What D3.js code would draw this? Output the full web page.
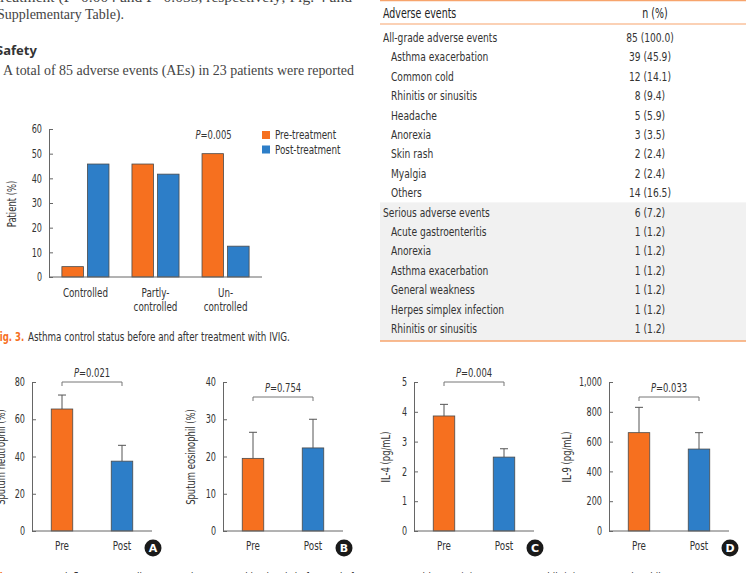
<!DOCTYPE html>
<html>
<head>
<meta charset="utf-8">
<script src="https://cdn.jsdelivr.net/npm/d3@7"></script>
<style>
  body { margin: 0; background: #fff; }
  svg { display: block; }
</style>
</head>
<body>
<script>
// Fig. 3 data: asthma control status (% of patients)
var categories = ["Controlled", "Partly-\ncontrolled", "Un-\ncontrolled"];
var preTreatment = [4.2, 45.8, 50.0];
var postTreatment = [45.8, 41.7, 12.5];
var mainTicks = [0, 10, 20, 30, 40, 50, 60];
var seriesNames = ["Pre-treatment", "Post-treatment"];

// Table: adverse events
var aeLabels = ["All-grade adverse events", "Asthma exacerbation", "Common cold", "Rhinitis or sinusitis",
  "Headache", "Anorexia", "Skin rash", "Myalgia", "Others",
  "Serious adverse events", "Acute gastroenteritis", "Anorexia", "Asthma exacerbation",
  "General weakness", "Herpes simplex infection", "Rhinitis or sinusitis"];
var aeValues = ["85 (100.0)", "39 (45.9)", "12 (14.1)", "8 (9.4)", "5 (5.9)", "3 (3.5)", "2 (2.4)",
  "2 (2.4)", "14 (16.5)", "6 (7.2)", "1 (1.2)", "1 (1.2)", "1 (1.2)", "1 (1.2)", "1 (1.2)", "1 (1.2)"];
var aeLevel = [0, 1, 1, 1, 1, 1, 1, 1, 1, 0, 1, 1, 1, 1, 1, 1];

// Fig. 4 panels: mean and upper error bar, pre vs post
var panelIds = ["A", "B", "C", "D"];
var panelLabels = ["Sputum neutrophil (%)", "Sputum eosinophil (%)", "IL-4 (pg/mL)", "IL-9 (pg/mL)"];
var panelP = ["0.021", "0.754", "0.004", "0.033"];
var preMean = [65.5, 19.5, 3.86, 660];
var preUpper = [73, 26.5, 4.25, 830];
var postMean = [37.5, 22.3, 2.48, 550];
var postUpper = [46, 30, 2.76, 660];
var panelTicks = [[0, 20, 40, 60, 80], [0, 10, 20, 30, 40], [0, 1, 2, 3, 4, 5], [0, 200, 400, 600, 800, 1000]];
var groups = ["Pre", "Post"];

var ORANGE = "#f6701f", BLUE = "#2d7ec8", OUTLINE = "#4a4a4a", AXIS = "#666", TXT = "#333";
var SANS = '"Liberation Sans Narrow", "DejaVu Sans Condensed", sans-serif';
var SERIF = '"Liberation Serif", "DejaVu Serif", serif';

var svg = d3.select("body").append("svg")
  .attr("width", 746)
  .attr("height", 573)
  .style("font-family", SANS);

// ---- body text (top left) ----
svg.append("text").attr("class", "keep").attr("x", -4).attr("y", 1.5)
  .attr("textLength", 356).attr("lengthAdjust", "spacingAndGlyphs")
  .style("font-family", SERIF).style("font-size", "14px").attr("fill", "#444")
  .text("treatment (P=0.004 and P=0.033, respectively; Fig. 4 and");
svg.append("text").attr("class", "keep").attr("x", -3).attr("y", 19)
  .attr("textLength", 127).attr("lengthAdjust", "spacingAndGlyphs")
  .style("font-family", SERIF).style("font-size", "14px").attr("fill", "#444")
  .text("Supplementary Table).");
svg.append("text").attr("class", "keep").attr("x", -4).attr("y", 55)
  .style("font-family", '"Noto Sans", sans-serif').style("font-size", "13px")
  .style("font-weight", "bold").attr("fill", "#333")
  .text("Safety");
svg.append("text").attr("class", "keep").attr("x", 3).attr("y", 75)
  .attr("textLength", 351).attr("lengthAdjust", "spacingAndGlyphs")
  .style("font-family", SERIF).style("font-size", "14px").attr("fill", "#444")
  .text("A total of 85 adverse events (AEs) in 23 patients were reported");

// ---- Fig. 3 grouped bar chart ----
var main = svg.append("g").attr("transform", "translate(49,0)");
var y = d3.scaleLinear().domain([0, 60]).range([277, 129]);
var x0 = d3.scaleBand().domain(categories).range([0, 213]).paddingInner(0).paddingOuter(0.02);
var x1 = d3.scaleBand().domain(["pre", "post"]).range([0, x0.bandwidth()]).paddingInner(0.157).paddingOuter(0.45);

var rows = categories.map(function(c, i) {
  return { cat: c, values: [{ k: "pre", v: preTreatment[i] }, { k: "post", v: postTreatment[i] }] };
});

main.selectAll("g.grp")
  .data(rows)
  .enter().append("g")
  .attr("class", "grp")
  .attr("transform", function(d) { return "translate(" + x0(d.cat) + ",0)"; })
  .selectAll("rect")
  .data(function(d) { return d.values; })
  .enter().append("rect")
  .attr("x", function(d) { return x1(d.k); })
  .attr("width", x1.bandwidth())
  .attr("y", function(d) { return y(d.v); })
  .attr("height", function(d) { return y(0) - y(d.v); })
  .attr("fill", function(d) { return d.k === "pre" ? ORANGE : BLUE; })
  .attr("stroke", OUTLINE)
  .attr("stroke-width", 0.8);

var yAxis = main.append("g")
  .call(d3.axisLeft(y).tickValues(mainTicks).tickSizeInner(-4).tickSizeOuter(0).tickPadding(7));
yAxis.select(".domain").attr("stroke", AXIS);
yAxis.selectAll(".tick line").attr("stroke", AXIS);
yAxis.selectAll("text").attr("fill", TXT).style("font-size", "11.5px").style("font-family", SANS);

main.append("line").attr("x1", 0).attr("x2", 213).attr("y1", y(0)).attr("y2", y(0)).attr("stroke", AXIS);

main.selectAll("text.cat")
  .data(categories)
  .enter().append("text")
  .attr("class", "cat")
  .attr("text-anchor", "middle")
  .attr("fill", TXT)
  .style("font-size", "12.5px")
  .each(function(d) {
    var t = d3.select(this);
    d.split("\n").forEach(function(line, j) {
      t.append("tspan")
        .attr("x", x0(d) + x0.bandwidth() / 2)
        .attr("y", 297 + j * 14)
        .text(line);
    });
  });

svg.append("text")
  .attr("transform", "translate(16,204) rotate(-90)")
  .attr("text-anchor", "middle").attr("fill", TXT).style("font-size", "12px")
  .text("Patient (%)");

var pText = main.append("text")
  .attr("x", x0(categories[2]) + x0.bandwidth() / 2 - 12).attr("y", 139)
  .attr("text-anchor", "middle").attr("fill", TXT).style("font-size", "12px");
pText.append("tspan").style("font-style", "italic").text("P");
pText.append("tspan").text("=0.005");

var legend = svg.append("g").attr("transform", "translate(262,131)");
seriesNames.forEach(function(name, i) {
  legend.append("rect").attr("x", 0).attr("y", i * 14.5).attr("width", 8).attr("height", 8)
    .attr("fill", i === 0 ? ORANGE : BLUE);
  legend.append("text").attr("x", 13).attr("y", i * 14.5 + 8)
    .attr("fill", TXT).style("font-size", "12.5px").text(name);
});

// figure captions: orange bold label squeezed with a transform, then the caption text
function figLabel(txt, yy) {
  svg.append("text").attr("class", "keep")
    .attr("transform", "translate(-6," + yy + ") scale(0.76,1)")
    .style("font-size", "12.5px").style("font-weight", "bold")
    .attr("fill", ORANGE).text(txt);
}
figLabel("Fig. 3.", 341);
svg.append("text").attr("x", 28).attr("y", 341).style("font-size", "12.5px")
  .attr("fill", TXT).text("Asthma control status before and after treatment with IVIG.");

// ---- Table ----
var table = svg.append("g");
var rowY = d3.scaleLinear().domain([0, aeLabels.length - 1]).range([37.5, 328.5]);
table.append("rect").attr("x", 380).attr("y", rowY(8.5)).attr("width", 366).attr("height", 341 - rowY(8.5))
  .attr("fill", "#f1f1f1");
table.append("line").attr("x1", 380).attr("x2", 746).attr("y1", 0.5).attr("y2", 0.5)
  .attr("stroke", "#f7a46c").attr("stroke-width", 1.5);
table.append("line").attr("x1", 380).attr("x2", 746).attr("y1", 24).attr("y2", 24)
  .attr("stroke", "#f7a46c").attr("stroke-width", 1.2);
table.append("line").attr("x1", 380).attr("x2", 746).attr("y1", 341).attr("y2", 341)
  .attr("stroke", "#f7a46c").attr("stroke-width", 1.5);
table.append("text").attr("x", 383).attr("y", 17.5).attr("fill", "#222").style("font-size", "13.5px").text("Adverse events");
table.append("text").attr("x", 655).attr("y", 17.5).attr("text-anchor", "middle").attr("fill", "#222")
  .style("font-size", "13.5px").text("n (%)");

table.selectAll("text.lab")
  .data(aeLabels)
  .enter().append("text")
  .attr("class", "lab")
  .attr("x", function(d, i) { return aeLevel[i] === 0 ? 383 : 391; })
  .attr("y", function(d, i) { return rowY(i); })
  .attr("dy", "0.35em")
  .attr("fill", TXT)
  .style("font-size", "13px")
  .text(function(d) { return d; });

table.selectAll("text.val")
  .data(aeValues)
  .enter().append("text")
  .attr("class", "val")
  .attr("x", 650)
  .attr("y", function(d, i) { return rowY(i); })
  .attr("dy", "0.35em")
  .attr("text-anchor", "middle")
  .attr("fill", TXT)
  .style("font-size", "13px")
  .text(function(d) { return d; });

// ---- Fig. 4 panels ----
var panelX = [32, 223, 414, 609];
var labelX = [5, 195, 390, 571];
var bracketY = [382, 397, 382, 397];

panelIds.forEach(function(id, i) {
  var g = svg.append("g").attr("transform", "translate(" + panelX[i] + ",0)");
  var py = d3.scaleLinear().domain([0, panelTicks[i][panelTicks[i].length - 1]]).range([531, 382]);
  var px = d3.scalePoint().domain(groups).range([0, 120]).padding(0.5);
  var bw = 21.5;
  var means = [preMean[i], postMean[i]];
  var uppers = [preUpper[i], postUpper[i]];

  // error bars first so bar covers the lower part
  groups.forEach(function(gname, j) {
    var cx = px(gname);
    g.append("line").attr("x1", cx).attr("x2", cx).attr("y1", py(means[j])).attr("y2", py(uppers[j]))
      .attr("stroke", "#555").attr("stroke-width", 1);
    g.append("line").attr("x1", cx - 4).attr("x2", cx + 4).attr("y1", py(uppers[j])).attr("y2", py(uppers[j]))
      .attr("stroke", "#555").attr("stroke-width", 1);
  });

  g.selectAll("rect")
    .data(groups)
    .enter().append("rect")
    .attr("x", function(d) { return px(d) - bw / 2; })
    .attr("width", bw)
    .attr("y", function(d, j) { return py(means[j]); })
    .attr("height", function(d, j) { return py(0) - py(means[j]); })
    .attr("fill", function(d, j) { return j === 0 ? ORANGE : BLUE; })
    .attr("stroke", OUTLINE)
    .attr("stroke-width", 0.8);

  var ax = g.append("g")
    .call(d3.axisLeft(py).tickValues(panelTicks[i]).tickFormat(d3.format(",")).tickSizeInner(-4).tickSizeOuter(0).tickPadding(7));
  ax.select(".domain").attr("stroke", AXIS);
  ax.selectAll(".tick line").attr("stroke", AXIS);
  ax.selectAll("text").attr("fill", TXT).style("font-size", "11.5px").style("font-family", SANS);

  g.append("line").attr("x1", 0).attr("x2", 120).attr("y1", py(0)).attr("y2", py(0)).attr("stroke", AXIS);

  g.selectAll("text.grp")
    .data(groups)
    .enter().append("text")
    .attr("class", "grp")
    .attr("x", function(d) { return px(d); })
    .attr("y", 549.5)
    .attr("text-anchor", "middle")
    .attr("fill", TXT)
    .style("font-size", "12.5px")
    .text(function(d) { return d; });

  // significance bracket
  var bx1 = px("Pre"), bx2 = px("Post"), by = bracketY[i];
  g.append("path")
    .attr("d", "M" + bx1 + "," + (by + 4) + "V" + by + "H" + bx2 + "V" + (by + 4))
    .attr("fill", "none").attr("stroke", "#777").attr("stroke-width", 1);
  var pt = g.append("text").attr("x", (bx1 + bx2) / 2).attr("y", by - 5)
    .attr("text-anchor", "middle").attr("fill", TXT).style("font-size", "12px");
  pt.append("tspan").style("font-style", "italic").text("P");
  pt.append("tspan").text("=" + panelP[i]);

  // panel letter
  g.append("circle").attr("cx", 121).attr("cy", 548).attr("r", 8.5).attr("fill", "#1a1a1a");
  g.append("text").attr("class", "keep").attr("x", 121).attr("y", 548).attr("dy", "0.36em").attr("text-anchor", "middle")
    .attr("fill", "#fff").style("font-size", "11px").style("font-weight", "bold")
    .style("font-family", '"DejaVu Sans", sans-serif').text(id);

  svg.append("text")
    .attr("transform", "translate(" + labelX[i] + ",457) rotate(-90)")
    .attr("text-anchor", "middle").attr("fill", TXT).style("font-size", "12px")
    .text(panelLabels[i]);
});

// bottom caption, cut by page edge
figLabel("Fig. 4.", 582);
svg.append("text").attr("x", 28).attr("y", 582).style("font-size", "12.5px").attr("fill", TXT)
  .text("Sputum inflammatory cell counts and serum cytokine levels before and after treatment with IVIG. (A) Sputum neutrophil. (B) Sputum eosinophil.");

// narrow the sans text to match the condensed face of the original
var SQUEEZE = 0.78;
svg.selectAll("text").each(function() {
  if (this.getAttribute("class") === "keep") return;
  var parts = this.querySelectorAll("tspan");
  var stacked = parts.length && parts[0].hasAttribute("x");
  var targets = stacked ? Array.prototype.slice.call(parts) : [this];
  targets.forEach(function(el) {
    var w = el.getComputedTextLength();
    if (w > 0) {
      el.setAttribute("textLength", (w * SQUEEZE).toFixed(1));
      el.setAttribute("lengthAdjust", "spacingAndGlyphs");
    }
  });
});
</script>
</body>
</html>
